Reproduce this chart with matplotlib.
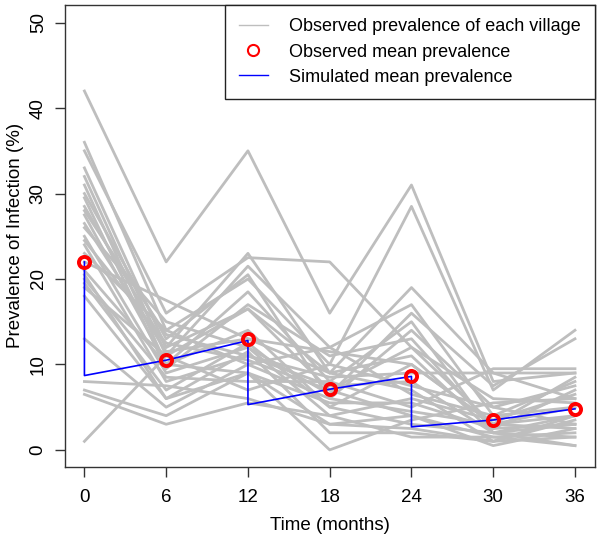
import numpy as np
import matplotlib.pyplot as plt
from matplotlib.lines import Line2D

plt.rcParams['font.family'] = ['Liberation Sans', 'DejaVu Sans']

months = [0, 6, 12, 18, 24, 30, 36]

# observed prevalence (%) in each village at each survey
villages = [
    [42, 22, 35, 16, 31, 8, 9],
    [36, 14, 20, 10, 28.5, 7, 14],
    [35, 16, 22.5, 22, 12, 3, 5],
    [33, 12, 23, 9, 19, 9, 6],
    [32, 11, 21.5, 12, 17, 4, 8],
    [31, 10, 18.5, 8, 15, 2, 4],
    [30, 13, 20.5, 6, 14, 5, 7.5],
    [29.5, 9.5, 17, 11, 13, 2.5, 3],
    [28.5, 12, 16.5, 7, 12, 6, 5.5],
    [27.5, 10, 14, 5, 10, 3, 2.5],
    [26.5, 11.5, 13, 9, 7, 1, 3.5],
    [25, 9, 12, 4, 6, 3.5, 6.5],
    [24, 8, 11, 7.5, 8, 2, 1.5],
    [23, 14, 10, 12, 6.5, 4, 5],
    [21, 10, 9, 3, 4, 0.5, 2.5],
    [20, 8.5, 8, 8, 5, 9.5, 9.5],
    [19.5, 7, 12.5, 5, 3, 2, 0.5],
    [19, 11, 7, 10, 7.5, 5, 3],
    [18, 6, 11.5, 2, 2, 1, 1.5],
    [13, 5, 10, 6, 4.5, 3, 8.5],
    [8, 7.5, 6, 3, 2.5, 1, 4],
    [7, 4, 9, 0, 3.5, 5.5, 6],
    [6.5, 3, 5.5, 4, 1.5, 1.5, 0.5],
    [1, 11, 16.5, 9, 11, 2, 3],
    [22, 17.5, 13, 11.5, 10, 3, 4],
    [20.5, 6, 9, 5.5, 5.5, 2.5, 7],
    [24.5, 12.5, 10.5, 7, 4, 1.5, 2],
    [26, 15, 12, 6.5, 16, 7.5, 13],
    [28, 13.5, 11, 8.5, 9, 9, 9],
]

obs_mean = [22, 10.5, 13, 7.1, 8.7, 3.5, 4.8]

# simulated mean with drops at each treatment round
sim_t = [0, 0, 6, 12, 12, 18, 24, 24, 30, 36]
sim_mean = [22, 8.7, 10.5, 12.8, 5.3, 7.1, 8.6, 2.7, 3.5, 4.8]

fig = plt.figure(figsize=(6, 5.43), dpi=100)
ax = fig.add_axes([0.108, 0.14, 0.883, 0.851])

for v in villages:
    ax.plot(months, v, color='#bebebe', lw=2, zorder=1)

ax.plot(sim_t, sim_mean, color='blue', lw=1.2, zorder=2)
ax.plot(months, obs_mean, 'o', ms=8, mfc='none', mec='red', mew=2.8, zorder=3)

ax.set_xlim(-1.44, 37.44)
ax.set_ylim(-2, 52.08)
ax.set_xticks(months)
ax.set_yticks([0, 10, 20, 30, 40, 50])
ax.tick_params(axis='both', length=7, width=1, labelsize=13.5, color='#333333')
ax.tick_params(axis='x', pad=9)
ax.tick_params(axis='y', pad=6)
plt.setp(ax.get_yticklabels(), rotation=90, va='center')
for s in ax.spines.values():
    s.set_color('#333333')
    s.set_linewidth(1)

ax.set_xlabel('Time (months)', fontsize=13.5, labelpad=8)
ax.set_ylabel('Prevalence of Infection (%)', fontsize=13.5, labelpad=4)

handles = [Line2D([], [], color='#bebebe', lw=1),
           Line2D([], [], marker='o', ls='None', ms=8, mfc='none', mec='red', mew=1.5),
           Line2D([], [], color='blue', lw=1)]
labels = ['Observed prevalence of each village', 'Observed mean prevalence',
          'Simulated mean prevalence']
leg = ax.legend(handles, labels, loc='upper right', fontsize=13, frameon=True,
                fancybox=False, borderaxespad=0, framealpha=1, handlelength=1.6,
                handletextpad=1.2, borderpad=0.75, labelspacing=0.45)
leg.get_frame().set_edgecolor('#222222')
leg.get_frame().set_linewidth(1)

fig.savefig('out.png', dpi=100)
